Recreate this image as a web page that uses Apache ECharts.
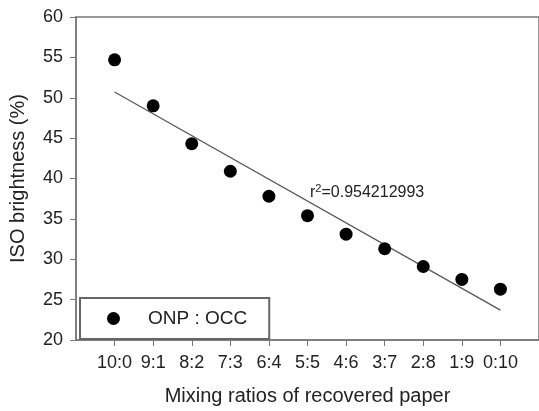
<!DOCTYPE html>
<html>
<head>
<meta charset="utf-8">
<script src="https://cdn.jsdelivr.net/npm/echarts@6/dist/echarts.min.js"></script>
<style>html,body{margin:0;padding:0;background:#fff}#c{width:539px;height:411px}</style>
</head>
<body>
<div id="c"></div>
<script>
const categories = ['10:0','9:1','8:2','7:3','6:4','5:5','4:6','3:7','2:8','1:9','0:10'];
const brightness = [54.7, 49.0, 44.3, 40.9, 37.8, 35.4, 33.1, 31.3, 29.1, 27.5, 26.3];
const fitEnds = [50.7, 23.7];
const yTicks = [20, 25, 30, 35, 40, 45, 50, 55, 60];
const seriesName = 'ONP : OCC';
const r2Text = '0.954212993';

const font = 'Liberation Sans, Arial, sans-serif';
const chart = echarts.init(document.getElementById('c'), null, {renderer: 'canvas'});
const idx = categories.map((c, i) => i);
chart.setOption({
  animation: false,
  backgroundColor: '#fff',
  textStyle: {fontFamily: font, color: '#222'},
  grid: {left: 76, right: -2, top: 17, bottom: 67, show: true, borderColor: '#777', borderWidth: 1.5, containLabel: false},
  xAxis: {
    type: 'value', min: -1, max: categories.length, interval: 1,
    name: 'Mixing ratios of recovered paper', nameLocation: 'middle', nameGap: 46,
    nameTextStyle: {fontSize: 20, color: '#222', fontFamily: font},
    axisLine: {show: true, onZero: false, lineStyle: {color: '#777', width: 1.5}},
    axisTick: {show: true, inside: false, length: 6, lineStyle: {color: '#777'}, customValues: idx},
    axisLabel: {fontSize: 18, color: '#222', margin: 14, customValues: idx, formatter: v => categories[v] || ''},
    splitLine: {show: false}
  },
  yAxis: {
    type: 'value', min: yTicks[0], max: yTicks[yTicks.length - 1], interval: 5,
    name: 'ISO brightness (%)', nameLocation: 'middle', nameGap: 48, nameRotate: 90,
    nameTextStyle: {fontSize: 20, color: '#222', fontFamily: font},
    axisLine: {show: true, onZero: false, lineStyle: {color: '#777', width: 1.5}},
    axisTick: {show: true, inside: false, length: 6, lineStyle: {color: '#777'}},
    axisLabel: {fontSize: 18, color: '#222', margin: 13},
    splitLine: {show: false}
  },
  legend: {
    left: 80, top: 298,
    data: [{name: seriesName, icon: 'circle', itemStyle: {opacity: 1, color: '#000'}}],
    orient: 'horizontal',
    itemWidth: 13, itemHeight: 13,
    padding: [10, 22, 10, 27],
    borderColor: '#666', borderWidth: 2, backgroundColor: '#fff',
    textStyle: {fontSize: 19, color: '#222', lineHeight: 21, fontFamily: font, padding: [0, 0, 0, 23]}
  },
  graphic: [{
    type: 'text', left: 310, top: 183, z: 10,
    style: {
      text: '{r|r}{s|2}{r|=' + r2Text + '}',
      rich: {
        r: {fontSize: 16, fontFamily: font, fill: '#222', color: '#222'},
        s: {fontSize: 11, fontFamily: font, fill: '#222', color: '#222', padding: [0, 0, 9, 0]}
      }
    }
  }],
  series: [
    {
      name: 'fit', type: 'line', data: [[0, fitEnds[0]], [categories.length - 1, fitEnds[1]]],
      showSymbol: false, symbol: 'none', lineStyle: {color: '#555', width: 1.2}, z: 1, silent: true
    },
    {
      name: seriesName, type: 'scatter', data: brightness.map((v, i) => [i, v]),
      symbol: 'circle', symbolSize: 13, itemStyle: {color: '#000', opacity: 1}, z: 3
    }
  ]
});
</script>
</body>
</html>
